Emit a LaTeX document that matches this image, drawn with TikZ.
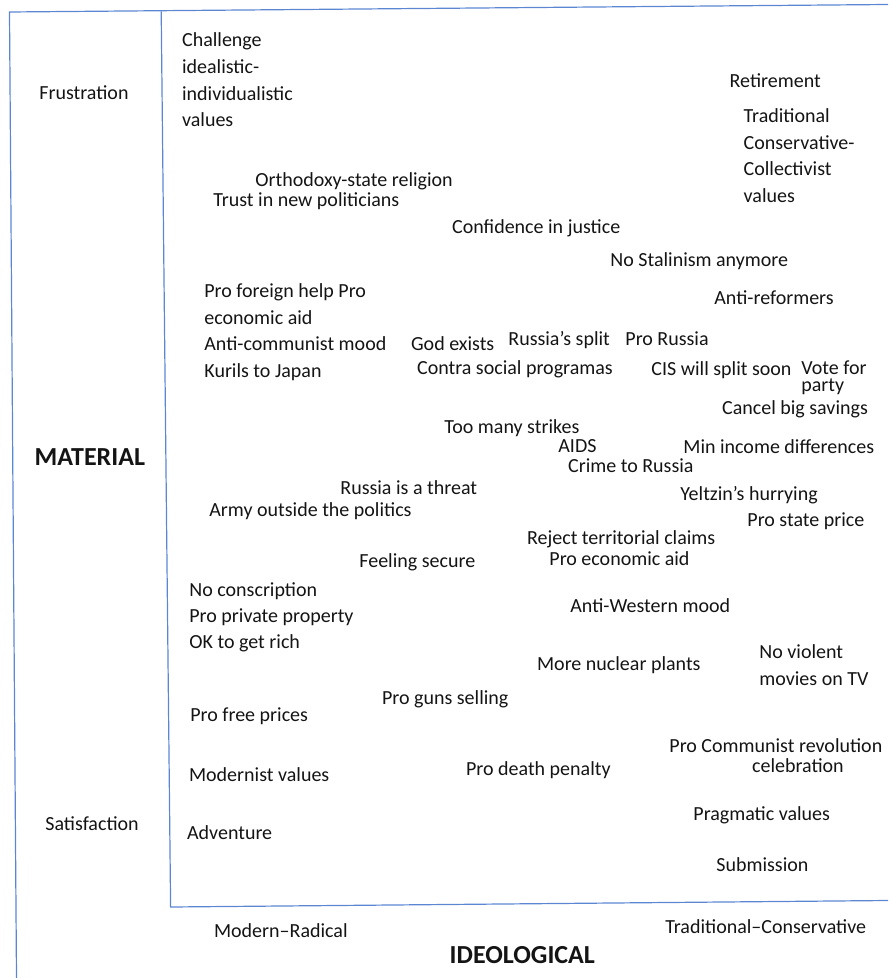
\documentclass[tikz,border=0pt]{standalone}
\usepackage{fontspec}
\setmainfont{Carlito}
\usepackage{tikz}
\usetikzlibrary{positioning}
\definecolor{myblue}{RGB}{92,134,210}
\definecolor{mytext}{RGB}{20,20,20}
\tikzset{
  item/.style={anchor=base west, inner sep=0pt, align=left, text=mytext,
    font=\fontsize{10}{13.3}\selectfont},
  axisname/.style={anchor=base west, inner sep=0pt, text=mytext,
    font=\fontsize{13}{15}\selectfont\bfseries},
  frameline/.style={draw=myblue, line width=0.6pt}
}

\begin{document}
\begin{tikzpicture}[x=0.5pt, y=-0.5pt]
  \useasboundingbox (0,0) rectangle (888,978);

  % Frame corners
  \coordinate (otl) at (9.5,12);
  \coordinate (otr) at (888,4.5);
  \coordinate (obl) at (16.5,978);
  \coordinate (itl) at (161.2,11.5);
  \coordinate (ibl) at (170.6,907);
  \coordinate (ibr) at (888,900.5);

  % Outer and inner frame
  \draw[frameline] (obl) -- (otl) -- (otr);
  \draw[frameline] (itl) -- (ibl) -- (ibr);

  % Axis names
  \node[axisname] (material) at (34.3,465) {MATERIAL};
  \node[axisname] (ideological) at (449.3,963.3) {IDEOLOGICAL};
  \node[item] (frustration) at (39,99.3) {Frustration};
  \node[item] (satisfaction) at (45,830.7) {Satisfaction};
  \node[item] (modrad) at (213.7,937.3) {Modern--Radical};
  \node[item] (tradcons) at (665,933.3) {Traditional--Conservative};

  % Upper part (multi-line items sit on their last line)
  \node[item] (challenge) at (181.7,126.8) {Challenge\\idealistic-\\individualistic\\values};
  \node[item] (retirement) at (729.3,87.3) {Retirement};
  \node[item] (tradvalues) at (743.3,202.4) {Traditional\\Conservative-\\Collectivist\\values};
  \node[item] (orthodoxy) at (255,186.7) {Orthodoxy-state religion};
  \node[item] (trust) at (213,207) {Trust in new politicians};
  \node[item] (justice) at (451.7,234) {Confidence in justice};
  \node[item] (stalinism) at (610,266.7) {No Stalinism anymore};
  \node[item, font=\fontsize{10}{13.2}\selectfont] (foreignhelp) at (204,377) {Pro foreign help Pro\\economic aid\\Anti-communist mood\\Kurils to Japan};
  \node[item] (antireform) at (714,305) {Anti-reformers};
  \node[item] (god) at (410.7,350.7) {God exists};
  \node[item] (rsplit) at (508,345.7) {Russia’s split};
  \node[item] (prorussia) at (625,345.7) {Pro Russia};
  \node[item] (contra) at (416.7,374) {Contra social programas};
  \node[item] (cis) at (651,375) {CIS will split soon};
  \node[item, font=\fontsize{10}{8.4}\selectfont] (vote) at (801,391.7) {Vote for\\party};
  \node[item] (savings) at (721.7,414) {Cancel big savings};

  % Middle part
  \node[item] (strikes) at (444,433) {Too many strikes};
  \node[item] (aids) at (558,452.7) {AIDS};
  \node[item] (minincome) at (683,453) {Min income differences};
  \node[item] (crime) at (567.7,472.7) {Crime to Russia};
  \node[item] (threat) at (340,494) {Russia is a threat};
  \node[item] (yeltzin) at (680,500) {Yeltzin’s hurrying};
  \node[item] (army) at (209,516) {Army outside the politics};
  \node[item] (stateprice) at (747,526) {Pro state price};
  \node[item] (claims) at (526.7,544) {Reject territorial claims};
  \node[item] (secure) at (359,567.7) {Feeling secure};
  \node[item] (ecaid) at (549,565.7) {Pro economic aid};
  \node[item, font=\fontsize{10}{13}\selectfont] (conscription) at (189,648) {No conscription\\Pro private property\\OK to get rich};
  \node[item] (antiwest) at (570,612) {Anti-Western mood};

  % Lower part
  \node[item, font=\fontsize{10}{13.5}\selectfont] (noviolent) at (759,685) {No violent\\movies on TV};
  \node[item] (nuclear) at (536.7,670) {More nuclear plants};
  \node[item] (guns) at (381.7,704) {Pro guns selling};
  \node[item] (freeprices) at (190,721.7) {Pro free prices};
  \node[item] (revolution) at (669,752.7) {Pro Communist revolution};
  \node[item] (celebration) at (751.7,772.3) {celebration};
  \node[item] (death) at (465.7,775) {Pro death penalty};
  \node[item] (modernist) at (188.7,781.7) {Modernist values};
  \node[item] (pragmatic) at (693,820) {Pragmatic values};
  \node[item] (adventure) at (186.7,839) {Adventure};
  \node[item] (submission) at (716,871.7) {Submission};
\end{tikzpicture}
\end{document}
